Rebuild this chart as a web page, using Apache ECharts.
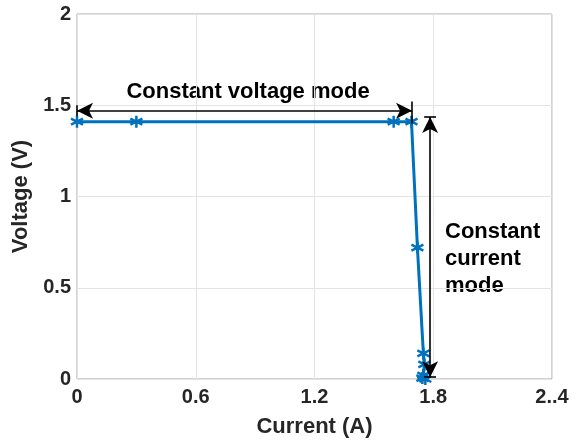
<!DOCTYPE html>
<html><head><meta charset="utf-8">
<script src="https://cdn.jsdelivr.net/npm/echarts@6/dist/echarts.min.js"></script>
<style>html,body{margin:0;padding:0;background:#fff}#c{width:579px;height:444px}</style>
</head><body><div id="c"></div>
<script>
const current = [0, 0.30, 1.60, 1.69, 1.72, 1.75, 1.755, 1.75, 1.745, 1.76];
const voltage = [1.41, 1.41, 1.41, 1.41, 0.72, 0.14, 0.08, 0.02, 0.005, 0.0];
const xTickLabels = ['0', '0.6', '1.2', '1.8', '2..4'];
const yTickLabels = ['0', '0.5', '1', '1.5', '2'];
const cvArrow = [[0, 1.47], [1.693, 1.47]];
const ccArrow = [[1.784, 1.435], [1.784, 0.01]];

const FONT = '"Liberation Sans", Arial, sans-serif';
const TXT = '#262626';
const chart = echarts.init(document.getElementById('c'), null, {renderer: 'canvas'});
const asterisk = 'path://M0,-10 L0,10 M-8.7,-5 L8.7,5 M-8.7,5 L8.7,-5';

chart.setOption({
  animation: false,
  backgroundColor: '#fff',
  grid: {left: 77, right: 27, top: 14, bottom: 65, show: true, borderColor: '#a6a6a6', borderWidth: 1},
  xAxis: {
    type: 'value', min: 0, max: 2.4, interval: 0.6,
    name: 'Current (A)', nameLocation: 'middle', nameGap: 37,
    nameTextStyle: {fontFamily: FONT, fontWeight: 'bold', fontSize: 22, color: TXT},
    axisLine: {show: false}, axisTick: {show: false},
    axisLabel: {margin: 8, fontFamily: FONT, fontWeight: 'bold', fontSize: 20, color: TXT,
      formatter: (v) => xTickLabels[Math.round(v / 0.6)]},
    splitLine: {show: true, lineStyle: {color: '#e3e3e3', width: 1}}
  },
  yAxis: {
    type: 'value', min: 0, max: 2, interval: 0.5,
    name: 'Voltage (V)', nameLocation: 'middle', nameGap: 44,
    nameTextStyle: {fontFamily: FONT, fontWeight: 'bold', fontSize: 22, color: TXT},
    axisLine: {show: false}, axisTick: {show: false},
    axisLabel: {margin: 6, fontFamily: FONT, fontWeight: 'bold', fontSize: 20, color: TXT,
      formatter: (v) => yTickLabels[Math.round(v / 0.5)]},
    splitLine: {show: true, lineStyle: {color: '#e3e3e3', width: 1}}
  },
  series: [
    {
      type: 'line',
      data: current.map((x, i) => [x, voltage[i]]),
      lineStyle: {color: '#0072BD', width: 3},
      symbol: asterisk, symbolSize: 12,
      itemStyle: {color: '#0072BD', borderColor: '#0072BD', borderWidth: 2.5},
      z: 3
    },
    {
      type: 'line', data: [], silent: true,
      markLine: {
        silent: true, animation: false,
        label: {show: false},
        lineStyle: {color: '#000', width: 1.6, type: 'solid'},
        symbol: ['arrow', 'arrow'], symbolSize: [12, 16],
        data: [
          [{coord: cvArrow[0]}, {coord: cvArrow[1]}],
          [{coord: ccArrow[0]}, {coord: ccArrow[1]}],
          [{coord: [1.693, 1.40], symbol: 'none'}, {coord: [1.693, 1.52], symbol: 'none'}],
          [{coord: [0, 1.44], symbol: 'none'}, {coord: [0, 1.50], symbol: 'none'}],
          [{coord: [1.754, 1.435], symbol: 'none'}, {coord: [1.814, 1.435], symbol: 'none'}],
          [{coord: [1.754, 0.01], symbol: 'none'}, {coord: [1.814, 0.01], symbol: 'none'}]
        ]
      }
    }
  ],
  graphic: [
    {type: 'text', x: 248, y: 92, style: {text: 'Constant voltage mode', font: 'bold 22px ' + FONT, fill: '#000', textAlign: 'center', textVerticalAlign: 'middle'}},
    {type: 'text', x: 445, y: 259, style: {text: 'Constant\ncurrent\nmode', font: 'bold 22px ' + FONT, fill: '#000', textAlign: 'left', textVerticalAlign: 'middle', lineHeight: 27}}
  ]
});
</script></body></html>
